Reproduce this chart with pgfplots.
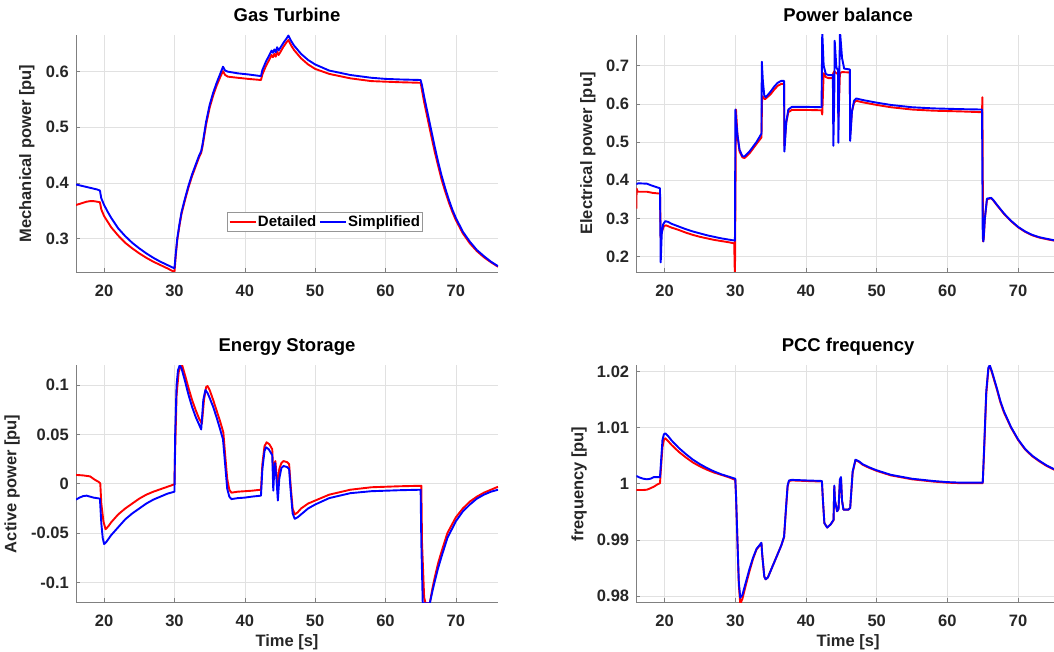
\documentclass[border=0pt]{standalone}
\usepackage{fontspec}
\setmainfont{Liberation Sans}
\usepackage{pgfplots}
\pgfplotsset{compat=1.18}
\definecolor{axgray}{RGB}{128,128,128}
\definecolor{gridgray}{RGB}{225,225,225}
\definecolor{tickgray}{RGB}{38,38,38}
\definecolor{legendgray}{RGB}{150,150,150}
\newcommand{\tfont}{\fontsize{16.5}{18}\selectfont\bfseries}
\pgfplotsset{
  myax/.style={
    scale only axis,
    height=237pt,
    xmin=16,
    xtick={20,30,40,50,60,70},
    xticklabels={20,30,40,50,60,70},
    axis x line*=bottom, axis y line*=left,
    axis line style={-, draw=axgray, line width=0.6pt},
    tick align=inside,
    major tick length=4pt,
    tick style={draw=axgray, line width=0.6pt},
    grid=major,
    major grid style={draw=gridgray, line width=0.6pt},
    ticklabel style={font=\tfont, text=tickgray},
    xticklabel style={anchor=base, yshift=-24.7pt},
    yticklabel style={anchor=east, inner xsep=0pt, xshift=-7pt},
    label style={font=\tfont, text=tickgray},
    title style={anchor=base, font=\fontsize{18.5}{20}\selectfont\bfseries, text=black},
    clip=true,
    every axis plot/.append style={line width=1.9pt, line join=round},
    legend image code/.code={\draw[##1] (0pt,0pt) -- (26pt,0pt);},
  },
  leftax/.style={myax, width=422pt, xmax=76,
    title style={at={(axis description cs:0.5,1)}, yshift=7.5pt},
    xlabel style={at={(axis description cs:0.5,-0.186)}, anchor=base}},
  rightax/.style={myax, width=417.7pt, xmax=75.08,
    title style={at={(axis description cs:0.507,1)}, yshift=7.5pt},
    xlabel style={at={(axis description cs:0.507,-0.186)}, anchor=base}},
}
\begin{document}
\begin{tikzpicture}
\path[use as bounding box] (0pt,0pt) rectangle (1054pt,652pt);

% ---------------- Gas Turbine ----------------
\begin{axis}[leftax, at={(76pt,380pt)}, anchor=south west,
  title={Gas Turbine},
  ylabel={Mechanical power [pu]},
  ylabel style={at={(axis description cs:-0.1066,0.5)}, anchor=base},
  ymin=0.2395, ymax=0.666,
  ytick={0.3,0.4,0.5,0.6}, yticklabels={0.3,0.4,0.5,0.6},
  legend columns=2,
  legend style={at={(axis description cs:0.3585,0.2544)}, anchor=north west,
    draw=legendgray, line width=0.6pt, fill=white,
    font=\fontsize{15}{16}\selectfont\bfseries, text=black,
    inner xsep=1pt, inner ysep=1.5pt,
    nodes={inner xsep=1.5pt, inner ysep=2pt},
    /tikz/every even column/.append style={column sep=1pt}},
]
\addplot[red] coordinates {
(16,0.360) (16.5,0.362) (17,0.364) (17.5,0.366) (18,0.367) (18.5,0.367) (19,0.366) (19.4,0.365)
(19.6,0.352) (20,0.340) (20.5,0.330) (21,0.320) (22,0.305) (23,0.292) (24,0.282) (25,0.273)
(26,0.265) (27,0.258) (28,0.252) (29,0.246) (30,0.2395)
(30.2,0.271) (30.4,0.297) (30.7,0.322) (31,0.344) (31.5,0.369) (32,0.392) (32.5,0.412) (33,0.429)
(33.5,0.446) (33.8,0.454) (34,0.466) (34.5,0.505) (35,0.535) (35.5,0.557) (36,0.575) (36.5,0.590)
(36.9,0.601) (37.2,0.594) (37.6,0.591) (39,0.589) (40.5,0.587) (42.3,0.585)
(42.5,0.595) (43,0.610) (43.5,0.622) (43.8,0.630) (44.0,0.626) (44.2,0.632) (44.4,0.627)
(44.6,0.636) (44.8,0.630) (45.0,0.634) (45.5,0.645) (46.0,0.654) (46.2,0.657)
(46.6,0.647) (47,0.639) (48,0.624) (49,0.613) (50,0.605) (52,0.596) (55,0.588) (58,0.583)
(60,0.582) (62,0.581) (65,0.580)
(65.2,0.566) (65.5,0.545) (66,0.515) (66.5,0.485) (67,0.456) (67.5,0.430) (68,0.405)
(68.5,0.384) (69,0.365) (69.5,0.348) (70,0.333) (71,0.309) (72,0.291) (73,0.277) (74,0.266)
(75,0.257) (76,0.249)
};
\addlegendentry{Detailed}
\addplot[blue] coordinates {
(16,0.397) (17,0.394) (18,0.391) (19,0.388) (19.4,0.386)
(19.6,0.372) (20,0.360) (20.5,0.348) (21,0.337) (22,0.318) (23,0.304) (24,0.292) (25,0.282)
(26,0.273) (27,0.265) (28,0.258) (29,0.252) (30,0.246)
(30.2,0.275) (30.4,0.300) (30.7,0.325) (31,0.347) (31.5,0.372) (32,0.395) (32.5,0.415) (33,0.432)
(33.5,0.449) (33.8,0.457) (34,0.470) (34.5,0.510) (35,0.540) (35.5,0.562) (36,0.580) (36.5,0.596)
(36.9,0.609) (37.2,0.602) (37.6,0.600) (39,0.597) (40.5,0.595) (42.3,0.592)
(42.5,0.603) (43,0.618) (43.5,0.630) (43.8,0.638) (44.0,0.634) (44.2,0.640) (44.4,0.635)
(44.6,0.644) (44.8,0.638) (45.0,0.642) (45.5,0.652) (46.0,0.661) (46.2,0.665)
(46.6,0.655) (47,0.647) (48,0.632) (49,0.621) (50,0.613) (52,0.602) (55,0.594) (58,0.589)
(60,0.587) (62,0.586) (65,0.585)
(65.2,0.575) (65.5,0.555) (66,0.525) (66.5,0.495) (67,0.465) (67.5,0.437) (68,0.412)
(68.5,0.390) (69,0.370) (69.5,0.352) (70,0.337) (71,0.312) (72,0.294) (73,0.279) (74,0.268)
(75,0.258) (76,0.250)
};
\addlegendentry{Simplified}
\end{axis}

% ---------------- Power balance ----------------
\begin{axis}[rightax, at={(636.3pt,380pt)}, anchor=south west,
  title={Power balance},
  ylabel={Electrical power [pu]},
  ylabel style={at={(axis description cs:-0.106,0.5)}, anchor=base},
  ymin=0.16, ymax=0.78,
  ytick={0.2,0.3,0.4,0.5,0.6,0.7}, yticklabels={0.2,0.3,0.4,0.5,0.6,0.7},
]
\addplot[red] coordinates {
(16.0,0.326) (16.05,0.378) (16.2,0.370) (17.5,0.370) (18.3,0.367) (19.35,0.365)
(19.45,0.25) (19.6,0.265) (19.9,0.280) (20.2,0.282) (21,0.276) (22,0.270) (23,0.263)
(24,0.257) (25,0.252) (26,0.248) (27,0.244) (28,0.241) (29,0.238) (29.85,0.235)
(29.95,0.14) (30.1,0.585) (30.3,0.52) (30.6,0.475) (31,0.460) (31.3,0.458) (32,0.470)
(33,0.495) (33.7,0.512) (33.8,0.620) (34.2,0.612) (35,0.625) (35.5,0.637) (36,0.647)
(36.5,0.652) (36.9,0.652) (36.95,0.49) (37.2,0.55) (37.5,0.578) (38,0.584) (40,0.584)
(42.2,0.583) (42.3,0.572) (42.5,0.680) (42.8,0.670) (43.2,0.667) (43.8,0.667) (43.85,0.680)
(44.0,0.685) (44.3,0.680) (44.55,0.678) (44.6,0.565) (44.8,0.680) (45.1,0.683) (46.2,0.682)
(46.25,0.52) (46.5,0.580) (46.8,0.603) (47.1,0.608) (48,0.604) (50,0.597) (52,0.591)
(55,0.585) (58,0.582) (60,0.581) (62,0.580) (64.9,0.578) (64.95,0.617) (65.05,0.240)
(65.15,0.250) (65.3,0.300) (65.6,0.350) (66.2,0.353) (66.5,0.347) (67,0.335) (68,0.312)
(69,0.293) (70,0.277) (71,0.265) (72,0.256) (73,0.250) (74,0.246) (75.1,0.242)
};
\addplot[blue] coordinates {
(16.0,0.390) (16.3,0.392) (17.5,0.391) (18.2,0.386) (19.35,0.379)
(19.45,0.185) (19.6,0.260) (19.8,0.285) (20.1,0.293) (20.5,0.291) (21,0.286) (22,0.279)
(23,0.272) (24,0.266) (25,0.261) (26,0.256) (27,0.252) (28,0.248) (29,0.245) (29.95,0.242)
(30.02,0.585) (30.1,0.560) (30.3,0.520) (30.6,0.480) (31,0.463) (31.3,0.462) (32,0.475)
(33,0.500) (33.7,0.522) (33.75,0.710) (33.9,0.660) (34.1,0.622) (34.3,0.617) (35,0.632)
(35.5,0.645) (36,0.655) (36.5,0.660) (36.9,0.660) (36.95,0.475) (37.2,0.550) (37.5,0.585)
(38,0.592) (40,0.592) (42.2,0.591) (42.3,0.790) (42.5,0.700) (42.8,0.678) (43.2,0.675)
(43.8,0.675) (43.87,0.490) (44.0,0.620) (44.06,0.765) (44.3,0.695) (44.52,0.688) (44.58,0.498)
(44.7,0.660) (44.81,0.790) (45.1,0.720) (45.4,0.692) (46.2,0.690) (46.25,0.503) (46.5,0.580)
(46.8,0.608) (47.1,0.614) (48,0.610) (50,0.603) (52,0.597) (55,0.591) (58,0.588) (60,0.587)
(62,0.586) (64.9,0.585) (65.0,0.250) (65.1,0.240) (65.3,0.300) (65.6,0.352) (66.2,0.354)
(66.5,0.348) (67,0.336) (68,0.313) (69,0.294) (70,0.278) (71,0.266) (72,0.257) (73,0.251)
(74,0.247) (75.1,0.243)
};
\end{axis}

% ---------------- Energy Storage ----------------
\begin{axis}[leftax, at={(76pt,49.7pt)}, anchor=south west,
  title={Energy Storage},
  xlabel={Time [s]},
  ylabel={Active power [pu]},
  ylabel style={at={(axis description cs:-0.141,0.5)}, anchor=base},
  ymin=-0.12, ymax=0.12,
  ytick={-0.1,-0.05,0,0.05,0.1}, yticklabels={-0.1,-0.05,0,0.05,0.1},
]
\addplot[red] coordinates {
(16,0.009) (17,0.0085) (18,0.0075) (18.7,0.004) (19.2,0.002) (19.45,0.0005) (19.6,-0.020)
(19.9,-0.038) (20.2,-0.046) (20.6,-0.043) (21,-0.039) (22,-0.031) (23,-0.025) (24,-0.020)
(25,-0.015) (26,-0.011) (27,-0.008) (28,-0.0055) (29,-0.003) (30,-0.0005) (30.05,0.020)
(30.3,0.090) (30.6,0.113) (30.9,0.120) (31.1,0.120) (31.5,0.110) (32,0.097) (32.5,0.085)
(33,0.075) (33.5,0.066) (33.9,0.061) (34.2,0.085) (34.5,0.098) (34.7,0.099) (35,0.095)
(35.5,0.085) (36,0.074) (36.5,0.063) (36.95,0.052) (37.2,0.030) (37.5,0.005) (37.8,-0.006)
(38.1,-0.009) (39,-0.008) (40,-0.0075) (41,-0.007) (42.3,-0.006) (42.5,0.020) (42.8,0.038)
(43.1,0.042) (43.5,0.040) (43.9,0.035) (44.05,0.010) (44.2,0.020) (44.35,0.023) (44.5,0.010)
(44.7,0.000) (44.9,0.015) (45.2,0.021) (45.5,0.023) (46.0,0.022) (46.3,0.020) (46.5,0.000)
(46.8,-0.025) (47.1,-0.031) (47.5,-0.029) (48,-0.025) (49,-0.020) (50,-0.017) (52,-0.011)
(55,-0.006) (58,-0.0035) (60,-0.003) (62,-0.0025) (65.1,-0.002) (65.2,-0.060) (65.5,-0.115)
(65.7,-0.121) (66.3,-0.121) (66.7,-0.105) (67,-0.095) (67.5,-0.080) (68,-0.068) (68.8,-0.050)
(70,-0.034) (71,-0.025) (72,-0.018) (73,-0.013) (74,-0.009) (75,-0.006) (76,-0.003)
};
\addplot[blue] coordinates {
(16,-0.016) (16.5,-0.014) (17,-0.0125) (17.5,-0.012) (18,-0.013) (18.5,-0.014) (19.4,-0.015)
(19.6,-0.040) (19.8,-0.055) (20.0,-0.061) (20.3,-0.059) (21,-0.052) (22,-0.044) (23,-0.036)
(24,-0.030) (25,-0.025) (26,-0.020) (27,-0.016) (28,-0.013) (29,-0.010) (30,-0.008)
(30.1,0.050) (30.3,0.100) (30.5,0.115) (30.75,0.120) (31,0.117) (31.5,0.104) (32,0.090)
(32.5,0.078) (33,0.068) (33.5,0.060) (33.8,0.055) (34.1,0.085) (34.4,0.095) (34.7,0.092)
(35,0.087) (35.5,0.078) (36,0.067) (36.5,0.055) (36.9,0.045) (37.2,0.020) (37.5,-0.005)
(37.8,-0.013) (38.1,-0.0155) (39,-0.0145) (40,-0.014) (41,-0.013) (42.3,-0.012) (42.5,0.015)
(42.8,0.033) (43.0,0.037) (43.4,0.035) (43.9,0.029) (44.05,-0.007) (44.2,0.015) (44.3,0.021)
(44.5,0.005) (44.7,-0.017) (44.9,0.005) (45.2,0.016) (45.5,0.018) (46.0,0.017) (46.3,0.015)
(46.5,-0.005) (46.8,-0.030) (47.1,-0.0355) (47.5,-0.034) (48,-0.031) (49,-0.025) (50,-0.021)
(52,-0.0145) (55,-0.0095) (58,-0.0075) (60,-0.007) (62,-0.0065) (65.0,-0.006) (65.1,-0.060)
(65.3,-0.121) (66.3,-0.121) (66.7,-0.108) (67,-0.099) (67.5,-0.085) (68,-0.073) (68.8,-0.055)
(70,-0.038) (71,-0.028) (72,-0.021) (73,-0.015) (74,-0.011) (75,-0.008) (76,-0.006)
};
\end{axis}

% ---------------- PCC frequency ----------------
\begin{axis}[rightax, at={(636.3pt,49.7pt)}, anchor=south west,
  title={PCC frequency},
  xlabel={Time [s]},
  ylabel={frequency [pu]},
  ylabel style={at={(axis description cs:-0.1269,0.5)}, anchor=base},
  ymin=0.9789, ymax=1.0211,
  ytick={0.98,0.99,1,1.01,1.02}, yticklabels={0.98,0.99,1,1.01,1.02},
]
\addplot[red] coordinates {
(16,0.9989) (17,0.9989) (17.5,0.99895) (18,0.9992) (18.5,0.9995) (19.0,0.9999) (19.35,1.0001)
(19.5,1.0030) (19.7,1.0065) (19.9,1.0078) (20.1,1.0081) (20.5,1.0076) (21,1.0069) (22,1.0057)
(23,1.0047) (24,1.0038) (25,1.0031) (26,1.0025) (27,1.0020) (28,1.0016) (29,1.0012) (30,1.0007)
(30.1,0.9980) (30.3,0.9900) (30.5,0.9820) (30.7,0.9786) (31,0.9795) (31.5,0.9820) (32,0.9844)
(32.5,0.9866) (33,0.9883) (33.7,0.9894) (33.8,0.9875) (34.1,0.9835) (34.3,0.9830) (34.6,0.9833)
(35,0.9845) (35.5,0.9860) (36,0.9875) (36.5,0.9890) (36.9,0.9905) (37.2,0.9960) (37.4,0.9995)
(37.6,1.0005) (38,1.0006) (40,1.0005) (42.25,1.0004) (42.4,0.9970) (42.6,0.9930) (43.0,0.9922)
(43.5,0.9928) (43.9,0.9935) (44.0,0.9995) (44.1,0.9970) (44.4,0.9951) (44.6,0.9955)
(44.8,1.0005) (44.95,1.0009) (45.1,0.9970) (45.3,0.9954) (46.0,0.9954) (46.25,0.9957)
(46.6,1.0020) (47.0,1.0042) (47.5,1.0039) (48,1.0034) (49,1.0028) (50,1.0023) (52,1.0015)
(55,1.0008) (58,1.0004) (60,1.0002) (62,1.0001) (65,1.0001) (65.2,1.0060) (65.5,1.0160)
(65.8,1.0205) (66.0,1.0210) (66.3,1.0198) (67,1.0168) (67.5,1.0145) (68,1.0127) (69,1.0100)
(70,1.0078) (71,1.0061) (72,1.0049) (73,1.0040) (74,1.0032) (75.1,1.0025)
};
\addplot[blue] coordinates {
(16,1.0014) (16.5,1.0011) (17,1.0009) (17.5,1.0008) (18,1.0009) (18.5,1.0012) (19.35,1.0012)
(19.5,1.0040) (19.7,1.0078) (19.9,1.0088) (20.1,1.0090) (20.5,1.0085) (21,1.0077) (22,1.0064)
(23,1.0053) (24,1.0043) (25,1.0035) (26,1.0028) (27,1.0022) (28,1.0017) (29,1.0013) (30,1.0009)
(30.1,0.9980) (30.3,0.9900) (30.5,0.9825) (30.7,0.9797) (31,0.9802) (31.5,0.9825) (32,0.9848)
(32.5,0.9868) (33,0.9884) (33.7,0.9895) (33.8,0.9875) (34.1,0.9835) (34.3,0.9830) (34.6,0.9833)
(35,0.9845) (35.5,0.9860) (36,0.9875) (36.5,0.9890) (36.9,0.9906) (37.2,0.9962) (37.4,0.9997)
(37.6,1.0006) (38,1.0007) (40,1.0006) (42.25,1.0005) (42.4,0.9970) (42.6,0.9930) (43.0,0.9922)
(43.5,0.9928) (43.9,0.9936) (44.0,0.9997) (44.1,0.9970) (44.4,0.9951) (44.6,0.9955)
(44.8,1.0008) (44.95,1.0012) (45.1,0.9970) (45.3,0.9954) (46.0,0.9954) (46.25,0.9957)
(46.6,1.0022) (47.0,1.0043) (47.5,1.0040) (48,1.0035) (49,1.0029) (50,1.0024) (52,1.0016)
(55,1.0009) (58,1.0005) (60,1.0003) (62,1.0002) (65,1.0002) (65.2,1.0065) (65.5,1.0165)
(65.8,1.0207) (66.0,1.0211) (66.3,1.0200) (67,1.0170) (67.5,1.0147) (68,1.0129) (69,1.0101)
(70,1.0079) (71,1.0062) (72,1.0050) (73,1.0041) (74,1.0033) (75.1,1.0026)
};
\end{axis}
\end{tikzpicture}
\end{document}
